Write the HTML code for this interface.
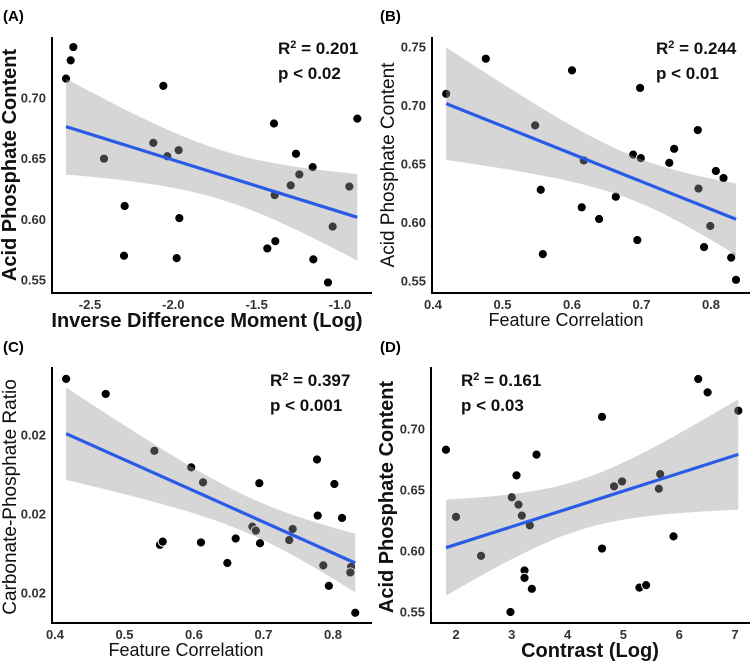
<!DOCTYPE html>
<html><head><meta charset="utf-8"><style>
body{margin:0;background:#fff;}
svg{display:block;font-family:"Liberation Sans",Arial,sans-serif;}
</style></head><body>
<svg id="fig" width="755" height="664" viewBox="0 0 755 664" xmlns="http://www.w3.org/2000/svg"></svg>
<script>
// Panel A data
const aX = [-2.644,-2.616,-2.60,-2.416,-2.292,-2.296,-2.12,-2.06,-2.036,-1.968,-1.964,-1.98,-1.436,-1.396,-1.392,-1.388,-1.296,-1.264,-1.244,-1.164,-1.16,-1.072,-1.044,-0.944,-0.896];
const aY = [0.716,0.731,0.742,0.650,0.611,0.570,0.663,0.710,0.652,0.657,0.601,0.568,0.576,0.679,0.620,0.582,0.628,0.654,0.637,0.643,0.567,0.548,0.594,0.627,0.683];
const aXTicks = [-2.5,-2.0,-1.5,-1.0];
const aXLabels = ["-2.5","-2.0","-1.5","-1.0"];
const aYTicks = [0.70,0.65,0.60,0.55];
const aYLabels = ["0.70","0.65","0.60","0.55"];
// Panel B data
const bX = [0.419,0.476,0.547,0.555,0.558,0.600,0.614,0.617,0.639,0.663,0.688,0.694,0.698,0.699,0.740,0.747,0.781,0.782,0.790,0.799,0.807,0.818,0.830,0.829,0.836];
const bY = [0.710,0.740,0.683,0.628,0.573,0.730,0.613,0.653,0.603,0.622,0.658,0.585,0.715,0.655,0.651,0.663,0.679,0.629,0.579,0.597,0.644,0.638,0.571,0.570,0.551];
const bXTicks = [0.4,0.5,0.6,0.7,0.8];
const bXLabels = ["0.4","0.5","0.6","0.7","0.8"];
const bYTicks = [0.75,0.70,0.65,0.60,0.55];
const bYLabels = ["0.75","0.70","0.65","0.60","0.55"];
// Panel C data
const cX = [0.416,0.473,0.543,0.551,0.555,0.596,0.610,0.613,0.648,0.660,0.684,0.689,0.694,0.695,0.737,0.742,0.777,0.778,0.786,0.794,0.802,0.813,0.826,0.825,0.832];
const cY = [0.02171,0.02152,0.02080,0.01961,0.01965,0.02059,0.01964,0.02040,0.01938,0.01969,0.01984,0.01979,0.02039,0.01963,0.01967,0.01981,0.02069,0.01998,0.01935,0.01909,0.02038,0.01995,0.01933,0.01926,0.01875];
const cXTicks = [0.4,0.5,0.6,0.7,0.8];
const cXLabels = ["0.4","0.5","0.6","0.7","0.8"];
const cYTicks = [0.021,0.020,0.019];
const cYLabels = ["0.02","0.02","0.02"];
// Panel D data
const dX = [1.82,2.0,2.449,2.976,3.0,3.084,3.12,3.18,3.228,3.228,3.323,3.359,3.443,4.617,4.617,4.832,4.976,5.287,5.407,5.635,5.659,5.898,6.341,6.509,7.06];
const dY = [0.683,0.628,0.596,0.550,0.644,0.662,0.638,0.629,0.584,0.578,0.621,0.569,0.679,0.710,0.602,0.653,0.657,0.570,0.572,0.651,0.663,0.612,0.741,0.730,0.715];
const dXTicks = [2,3,4,5,6,7];
const dXLabels = ["2","3","4","5","6","7"];
const dYTicks = [0.70,0.65,0.60,0.55];
const dYLabels = ["0.70","0.65","0.60","0.55"];

const NS = "http://www.w3.org/2000/svg";
const fig = document.getElementById('fig');
function mk(tag, attrs, parent, text){
  const e = document.createElementNS(NS, tag);
  for (const k in attrs) e.setAttribute(k, attrs[k]);
  if (text !== undefined) e.textContent = text;
  (parent||fig).appendChild(e);
  return e;
}
function lin(v0,p0,v1,p1){ return v => p0 + (v-v0)*(p1-p0)/(v1-v0); }

function panel(cfg){
  const g = mk('g', {});
  
  
  const sx = lin(cfg.xr[0],cfg.xr[1],cfg.xr[2],cfg.xr[3]);
  const sy = lin(cfg.yr[0],cfg.yr[1],cfg.yr[2],cfg.yr[3]);
  const X = cfg.x, Y = cfg.y, n = X.length;
  let mx=0,my=0; for(let i=0;i<n;i++){mx+=X[i];my+=Y[i];} mx/=n; my/=n;
  let sxx=0,sxy=0; for(let i=0;i<n;i++){sxx+=(X[i]-mx)**2; sxy+=(X[i]-mx)*(Y[i]-my);}
  const b = sxy/sxx, a = my-b*mx;
  let sse=0; for(let i=0;i<n;i++){sse+=(Y[i]-a-b*X[i])**2;}
  const s = Math.sqrt(sse/(n-2)), t = 2.069;
  const xmin = Math.min(...X), xmax = Math.max(...X);
  for(let i=0;i<n;i++){
    const c = mk('circle', {cx:sx(X[i]), cy:sy(Y[i]), r:4.6, fill:'#000', stroke:'#fff', 'stroke-width':1}, g);
    
    
  }
  const up=[], lo=[];
  for(let k=0;k<=60;k++){
    const xv = xmin + (xmax-xmin)*k/60;
    const fit = a+b*xv;
    const se = s*Math.sqrt(1/n + (xv-mx)**2/sxx);
    up.push(sx(xv).toFixed(2)+','+sy(fit+t*se).toFixed(2));
    lo.unshift(sx(xv).toFixed(2)+','+sy(fit-t*se).toFixed(2));
  }
  const band = mk('polygon', {points: up.concat(lo).join(' '), fill:'#999', 'fill-opacity':0.4}, g);
  
  
  const ln = mk('line', {x1:sx(xmin), y1:sy(a+b*xmin), x2:sx(xmax), y2:sy(a+b*xmax), stroke:'#2a5be6', 'stroke-width':3.2}, g);
  
  
  const ax = cfg.axis;
  const yl = mk('line', {x1:ax[0], y1:ax[1], x2:ax[0], y2:ax[3], stroke:'#000', 'stroke-width':2}, g);
  
  
  const xl = mk('line', {x1:ax[0]-1, y1:ax[3], x2:ax[2], y2:ax[3], stroke:'#000', 'stroke-width':2}, g);
  
  
  cfg.xt.forEach((v,i)=>{
    const tx = mk('text', {x:sx(v), y:ax[3]+16, 'text-anchor':'middle', 'font-size':13, 'font-weight':'bold', fill:'#333'}, g, cfg.xl[i]);
    
    
  });
  cfg.yt.forEach((v,i)=>{
    const ty = mk('text', {x:ax[0]-6, y:sy(v)+4.5, 'text-anchor':'end', 'font-size':13, 'font-weight':'bold', fill:'#333'}, g, cfg.yl[i]);
    
    
  });
  const xtit = mk('text', {x:cfg.xtp[0], y:cfg.xtp[1], 'text-anchor':'middle', 'font-size':cfg.xtBold?20:18, 'font-weight':cfg.xtBold?'bold':'normal', fill:'#111'}, g, cfg.xtitle);
  
  
  const ytit = mk('text', {x:0, y:0, transform:`translate(${cfg.ytp[0]},${cfg.ytp[1]}) rotate(-90)`, 'text-anchor':'middle', 'font-size':cfg.ytBold?20:19, 'font-weight':cfg.ytBold?'bold':'normal', fill:'#111'}, g, cfg.ytitle);
  
  
  const pl = mk('text', {x:cfg.lab[0], y:cfg.lab[1], 'font-size':15, 'font-weight':'bold', fill:'#000'}, g, cfg.label);
  
  
  const r2 = mk('text', {x:cfg.ann[0], y:cfg.ann[1], 'font-size':17, 'font-weight':'bold', fill:'#111'}, g);
  
  
  mk('tspan', {}, r2, 'R');
  mk('tspan', {dy:-6, 'font-size':11}, r2, '2');
  mk('tspan', {dy:6}, r2, ' = ' + cfg.r2);
  const pv = mk('text', {x:cfg.ann[0], y:cfg.ann[1]+25, 'font-size':17, 'font-weight':'bold', fill:'#111'}, g, 'p < ' + cfg.p);
  
  
}

panel({id:'panel-a', x:aX, y:aY, xr:[-2.5,90,-1.0,340], yr:[0.70,98,0.55,280], axis:[52,37,372,293],
  xt:aXTicks, xl:aXLabels, yt:aYTicks, yl:aYLabels, xtitle:'Inverse Difference Moment (Log)', xtBold:true, xtp:[207,327],
  ytitle:'Acid Phosphate Content', ytBold:true, ytp:[16,165], label:'(A)', lab:[3,21], ann:[278,54], r2:'0.201', p:'0.02'});
panel({id:'panel-b', x:bX, y:bY, xr:[0.4,433,0.8,711], yr:[0.75,47,0.55,281], axis:[432,37,750,293],
  xt:bXTicks, xl:bXLabels, yt:bYTicks, yl:bYLabels, xtitle:'Feature Correlation', xtBold:false, xtp:[566,326],
  ytitle:'Acid Phosphate Content', ytBold:false, ytp:[394,165], label:'(B)', lab:[380,21], ann:[656,54], r2:'0.244', p:'0.01'});
panel({id:'panel-c', x:cX, y:cY, xr:[0.4,55,0.8,333], yr:[0.021,435,0.019,593], axis:[52,367,372,623],
  xt:cXTicks, xl:cXLabels, yt:cYTicks, yl:cYLabels, xtitle:'Feature Correlation', xtBold:false, xtp:[186,656],
  ytitle:'Carbonate-Phosphate Ratio', ytBold:false, ytp:[16,497], label:'(C)', lab:[3,352], ann:[270,386], r2:'0.397', p:'0.001'});
panel({id:'panel-d', x:dX, y:dY, xr:[2,456,7,735], yr:[0.70,429,0.55,612], axis:[431,367,750,623],
  xt:dXTicks, xl:dXLabels, yt:dYTicks, yl:dYLabels, xtitle:'Contrast (Log)', xtBold:true, xtp:[590,657],
  ytitle:'Acid Phosphate Content', ytBold:true, ytp:[393,497], label:'(D)', lab:[380,352], ann:[461,386], r2:'0.161', p:'0.03'});
</script>
</body></html>
